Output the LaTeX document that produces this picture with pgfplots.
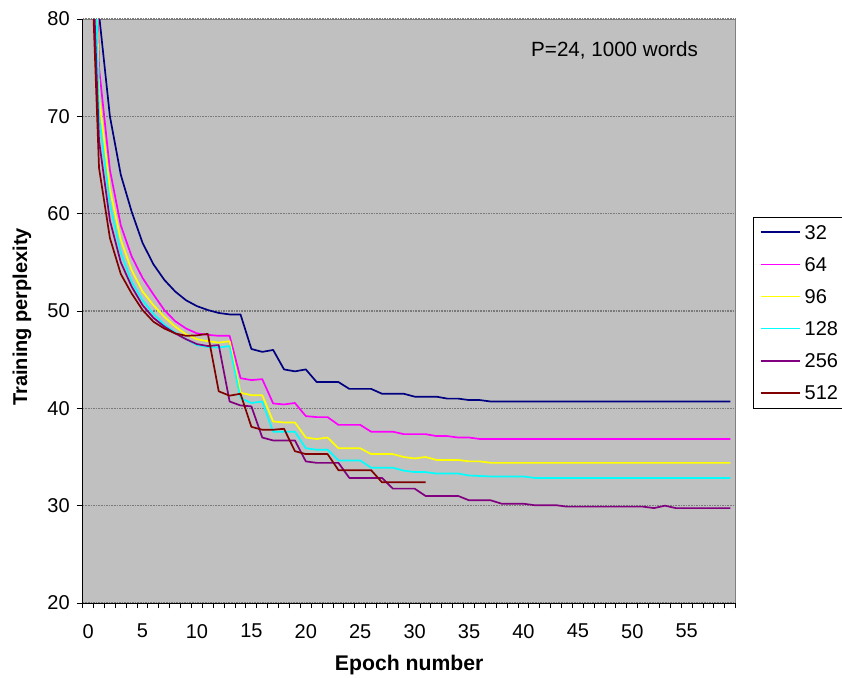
\documentclass[border=0pt]{standalone}
\usepackage{fontspec}
\setmainfont{Liberation Sans}
\usepackage{pgfplots}
\pgfplotsset{compat=1.18}
\usepackage{pgfplotstable}
\definecolor{plotbg}{HTML}{C0C0C0}
\definecolor{gridc}{HTML}{7A7A7A}
\definecolor{c32}{HTML}{000080}
\definecolor{c64}{HTML}{FF00FF}
\definecolor{c96}{HTML}{FFFF00}
\definecolor{c128}{HTML}{00FFFF}
\definecolor{c256}{HTML}{800080}
\definecolor{c512}{HTML}{800000}

% epoch, then perplexity for P=32,64,96,128,256
\pgfplotstableread{
ep  a     b     c      d      e
0   130   125   125    117.6  98.75
1   80.5  75    72     70     67.5
2   70    64.5  62.5   61     59.3
3   64    58.8  57.3   56     55.0
4   60.2  55.6  54.2   53     52.5
5   57.0  53.4  52.0   51.1   50.6
6   54.8  51.7  50.6   49.7   49.3
7   53.2  50.1  49.4   48.6   48.4
8   52.0  48.95 48.4   47.8   47.7
9   51.1  48.2  47.6   47.1   47.1
10  50.5  47.7  47.1   46.5   46.6
11  50.1  47.55 46.9   46.3   46.4
12  49.8  47.45 46.75  46.25  46.5
13  49.65 47.45 46.9   46.4   40.7
14  49.65 43.1  41.6   41.05  40.3
15  46.1  42.9  41.35  40.55  40.2
16  45.8  43.0  41.35  40.7   37.0
17  46.0  40.5  38.65  37.6   36.7
18  44.0  40.4  38.55  37.6   36.7
19  43.8  40.55 38.55  37.6   36.7
20  44.0  39.2  37.0   35.9   34.55
21  42.7  39.1  36.85  35.75  34.4
22  42.7  39.1  37.0   35.75  34.4
23  42.7  38.3  35.9   34.65  34.4
24  42.0  38.3  35.9   34.65  32.85
25  42.0  38.3  35.9   34.65  32.85
26  42.0  37.6  35.3   33.9   32.85
27  41.5  37.6  35.3   33.9   32.85
28  41.5  37.6  35.3   33.9   31.75
29  41.5  37.35 35.0   33.6   31.75
30  41.2  37.35 34.85  33.45  31.75
31  41.2  37.35 35.0   33.45  31.0
32  41.2  37.15 34.7   33.3   31.0
33  41.0  37.15 34.7   33.3   31.0
34  41.0  37.0  34.7   33.3   31.0
35  40.85 37.0  34.55  33.1   30.55
36  40.85 36.85 34.55  33.05  30.55
37  40.7  36.85 34.4   33.0   30.55
38  40.7  36.85 34.4   33.0   30.2
39  40.7  36.85 34.4   33.0   30.2
40  40.7  36.85 34.4   33.0   30.2
41  40.7  36.85 34.4   32.85  30.05
42  40.7  36.85 34.4   32.85  30.05
43  40.7  36.85 34.4   32.85  30.05
44  40.7  36.85 34.4   32.85  29.9
45  40.7  36.85 34.4   32.85  29.9
46  40.7  36.85 34.4   32.85  29.9
47  40.7  36.85 34.4   32.85  29.9
48  40.7  36.85 34.4   32.85  29.9
49  40.7  36.85 34.4   32.85  29.9
50  40.7  36.85 34.4   32.85  29.9
51  40.7  36.85 34.4   32.85  29.9
52  40.7  36.85 34.4   32.85  29.75
53  40.7  36.85 34.4   32.85  30.0
54  40.7  36.85 34.4   32.85  29.75
55  40.7  36.85 34.4   32.85  29.75
56  40.7  36.85 34.4   32.85  29.75
57  40.7  36.85 34.4   32.85  29.75
58  40.7  36.85 34.4   32.85  29.75
59  40.7  36.85 34.4   32.85  29.75
}\ppl

% P=512 stops at epoch 31
\pgfplotstableread{
ep  f
0   95.3
1   64.7
2   57.5
3   53.8
4   51.8
5   50.1
6   48.9
7   48.2
8   47.7
9   47.45
10  47.5
11  47.65
12  41.75
13  41.3
14  41.5
15  38.1
16  37.8
17  37.8
18  37.9
19  35.6
20  35.3
21  35.3
22  35.3
23  33.65
24  33.65
25  33.65
26  33.65
27  32.4
28  32.4
29  32.4
30  32.4
31  32.4
}\pplbig

\begin{document}
\begin{tikzpicture}
\useasboundingbox (-41.35pt,-37pt) rectangle (379.65pt,301.5pt);
\begin{axis}[
  scale only axis, width=326.5pt, height=292pt,
  xmin=-0.5, xmax=59.5, ymin=20, ymax=80,
  axis x line*=bottom, axis y line*=left,
  axis line style={black, line width=0.5pt},
  axis background/.style={fill=plotbg, draw=gray, line width=0.5pt},
  xtick={0,5,...,55}, ytick={20,30,...,80},
  minor xtick={-0.5,0.5,...,59.5},
  tick align=outside,
  major tick length=3pt, minor tick length=2.5pt,
  tick style={black, line width=0.5pt},
  major x tick style={draw=none},
  ymajorgrids,
  major grid style={gridc, line width=0.6pt, dash pattern=on 0.8pt off 0.5pt},
  /pgf/number format/assume math mode=true,
  tick label style={font=\fontsize{10}{12}\selectfont},
  xticklabel style={yshift=-4pt},
  xlabel={Epoch number}, ylabel={Training perplexity},
  xlabel style={font=\bfseries\fontsize{10.6}{12}\selectfont, at={(axis description cs:0.5,-0.106)}, anchor=center},
  ylabel style={font=\bfseries\fontsize{10}{12}\selectfont, at={(axis description cs:-0.093,0.49)}, anchor=center},
  ser/.style={line width=0.85pt, line join=round},
  legend image code/.code={\draw[#1] (0pt,0pt) -- (19.65pt,0pt);},
  legend style={at={(rel axis cs:1.027,0.6615)}, anchor=north west,
    draw=black, fill=white, font=\fontsize{10}{12}\selectfont,
    inner xsep=3pt, inner ysep=4pt, row sep=8.85pt, column sep=2pt,
    nodes={inner sep=0pt, text height=7.2pt, text depth=0pt}},
  legend cell align=left,
]
\addplot[ser, color=c32] table[x=ep, y=a] {\ppl};
\addlegendentry{32}
\addplot[ser, color=c64] table[x=ep, y=b] {\ppl};
\addlegendentry{64}
\addplot[ser, color=c96] table[x=ep, y=c] {\ppl};
\addlegendentry{96}
\addplot[ser, color=c128] table[x=ep, y=d] {\ppl};
\addlegendentry{128}
\addplot[ser, color=c256] table[x=ep, y=e] {\ppl};
\addlegendentry{256}
\addplot[ser, color=c512] table[x=ep, y=f] {\pplbig};
\addlegendentry{512}
\node[anchor=base east, inner sep=0pt, font=\fontsize{10.3}{12}\selectfont] at (rel axis cs:0.9427,0.9354) {P=24, 1000 words};
\end{axis}
\end{tikzpicture}
\end{document}
